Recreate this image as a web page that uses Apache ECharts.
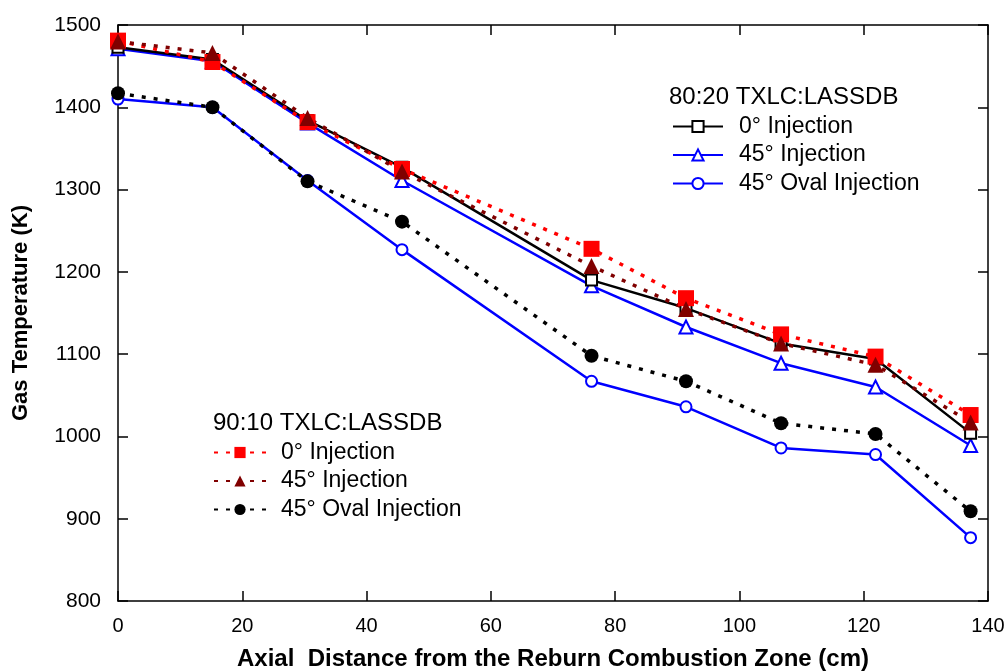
<!DOCTYPE html>
<html>
<head>
<meta charset="utf-8">
<script src="https://cdn.jsdelivr.net/npm/echarts@6/dist/echarts.min.js"></script>
<style>
  html, body { margin: 0; padding: 0; background: #ffffff; }
  #chart { width: 1008px; height: 672px; }
</style>
</head>
<body>
<div id="chart"></div>
<script>
// Axial measurement stations (cm)
const distances = [0, 15.2, 30.5, 45.7, 76.2, 91.4, 106.7, 121.9, 137.2];

// 80:20 TXLC:LASSDB blend
const blend8020_0deg    = [1473, 1458, 1384, 1327, 1190, 1156, 1113, 1094, 1004];
const blend8020_45deg   = [1471, 1456, 1381, 1311, 1183, 1133, 1089, 1060, 989];
const blend8020_45oval  = [1410, 1400, 1311, 1227, 1067, 1036, 986, 978, 877];

// 90:10 TXLC:LASSDB blend
const blend9010_0deg    = [1481, 1455, 1382, 1325, 1228, 1168, 1124, 1097, 1026];
const blend9010_45deg   = [1480, 1466, 1387, 1322, 1207, 1155, 1113, 1087, 1017];
const blend9010_45oval  = [1417, 1400, 1310, 1261, 1098, 1067, 1016, 1003, 909];

const xTicks = { min: 0, max: 140, interval: 20 };
const yTicks = { min: 800, max: 1500, interval: 100 };

const pairs = vals => distances.map((d, i) => [d, vals[i]]);

const FONT = "'Liberation Sans', Arial, sans-serif";
const NARROW = "'Liberation Sans Narrow', 'Arial Narrow', 'Liberation Sans', sans-serif";

const solid = (color) => ({ color: color, width: 2.5, type: 'solid' });
const dotted = (color) => ({ color: color, width: 3.5, type: [4, 8], cap: 'butt' });

const chart = echarts.init(document.getElementById('chart'), null, { renderer: 'canvas' });

const axisLine = { show: true, onZero: false, lineStyle: { color: '#000', width: 1.5 } };
const axisTick = { show: true, inside: true, length: 10, lineStyle: { color: '#000', width: 1.5 } };

const legendText = { fontFamily: FONT, fontSize: 23, color: '#000', lineHeight: 20 };

chart.setOption({
  backgroundColor: '#ffffff',
  animation: false,
  textStyle: { fontFamily: FONT },
  title: [
    { text: '80:20 TXLC:LASSDB', left: 669, top: 85, padding: 0,
      textStyle: { fontFamily: FONT, fontSize: 24, fontWeight: 'normal', color: '#000' } },
    { text: '90:10 TXLC:LASSDB', left: 213, top: 411, padding: 0,
      textStyle: { fontFamily: FONT, fontSize: 24, fontWeight: 'normal', color: '#000' } }
  ],
  legend: [
    {
      orient: 'vertical', left: 672, top: 115, padding: 0,
      itemWidth: 50, itemHeight: 14, itemGap: 5.5,
      data: ['80:20 0°', '80:20 45°', '80:20 45° Oval'],
      formatter: n => n.replace('80:20 ', '') + ' Injection',
      textStyle: Object.assign({ padding: [0, 0, 0, 11] }, legendText)
    },
    {
      orient: 'vertical', left: 213, top: 441, padding: 0,
      itemWidth: 52, itemHeight: 14, itemGap: 5.5,
      data: ['90:10 0°', '90:10 45°', '90:10 45° Oval'],
      formatter: n => n.replace('90:10 ', '') + ' Injection',
      textStyle: Object.assign({ padding: [0, 0, 0, 10] }, legendText)
    }
  ],
  grid: { left: 118, right: 20, top: 25, bottom: 71, containLabel: false, outerBoundsMode: 'none' },
  xAxis: [
    {
      type: 'value', position: 'bottom', min: xTicks.min, max: xTicks.max, interval: xTicks.interval,
      name: 'Axial  Distance from the Reburn Combustion Zone (cm)',
      nameLocation: 'middle', nameGap: 46,
      nameTextStyle: { fontFamily: NARROW, fontSize: 24, fontWeight: 'bold', color: '#000' },
      axisLine: axisLine, axisTick: axisTick,
      axisLabel: { margin: 15, fontFamily: NARROW, fontSize: 20, color: '#000' },
      splitLine: { show: false }
    },
    {
      type: 'value', position: 'top', min: xTicks.min, max: xTicks.max, interval: xTicks.interval,
      axisLine: axisLine, axisTick: axisTick, axisLabel: { show: false }, splitLine: { show: false }
    }
  ],
  yAxis: [
    {
      type: 'value', position: 'left', min: yTicks.min, max: yTicks.max, interval: yTicks.interval,
      name: 'Gas Temperature (K)', nameLocation: 'middle', nameGap: 86,
      nameTextStyle: { fontFamily: FONT, fontSize: 22, fontWeight: 'bold', color: '#000' },
      axisLine: axisLine, axisTick: axisTick,
      axisLabel: { margin: 17, fontFamily: FONT, fontSize: 21, color: '#000', formatter: v => String(v) },
      splitLine: { show: false }
    },
    {
      type: 'value', position: 'right', min: yTicks.min, max: yTicks.max, interval: yTicks.interval,
      axisLine: axisLine, axisTick: axisTick, axisLabel: { show: false }, splitLine: { show: false }
    }
  ],
  series: [
    {
      name: '80:20 45° Oval', type: 'line', data: pairs(blend8020_45oval),
      lineStyle: solid('#0000ff'), symbol: 'circle', symbolSize: 11,
      itemStyle: { color: '#ffffff', borderColor: '#0000ff', borderWidth: 2 }, z: 2
    },
    {
      name: '80:20 45°', type: 'line', data: pairs(blend8020_45deg),
      lineStyle: solid('#0000ff'), symbol: 'triangle', symbolSize: 13,
      itemStyle: { color: '#ffffff', borderColor: '#0000ff', borderWidth: 2 }, z: 2
    },
    {
      name: '80:20 0°', type: 'line', data: pairs(blend8020_0deg),
      lineStyle: solid('#000000'), symbol: 'rect', symbolSize: 11,
      itemStyle: { color: '#ffffff', borderColor: '#000000', borderWidth: 2 }, z: 2
    },
    {
      name: '90:10 0°', type: 'line', data: pairs(blend9010_0deg),
      lineStyle: dotted('#ff0000'), symbol: 'rect', symbolSize: 16,
      itemStyle: { color: '#ff0000', borderWidth: 0 }, z: 3
    },
    {
      name: '90:10 45°', type: 'line', data: pairs(blend9010_45deg),
      lineStyle: dotted('#800000'), symbol: 'triangle', symbolSize: 16,
      itemStyle: { color: '#800000', borderWidth: 0 }, z: 3
    },
    {
      name: '90:10 45° Oval', type: 'line', data: pairs(blend9010_45oval),
      lineStyle: dotted('#000000'), symbol: 'circle', symbolSize: 14,
      itemStyle: { color: '#000000', borderWidth: 0 }, z: 3
    }
  ]
});
</script>
</body>
</html>
